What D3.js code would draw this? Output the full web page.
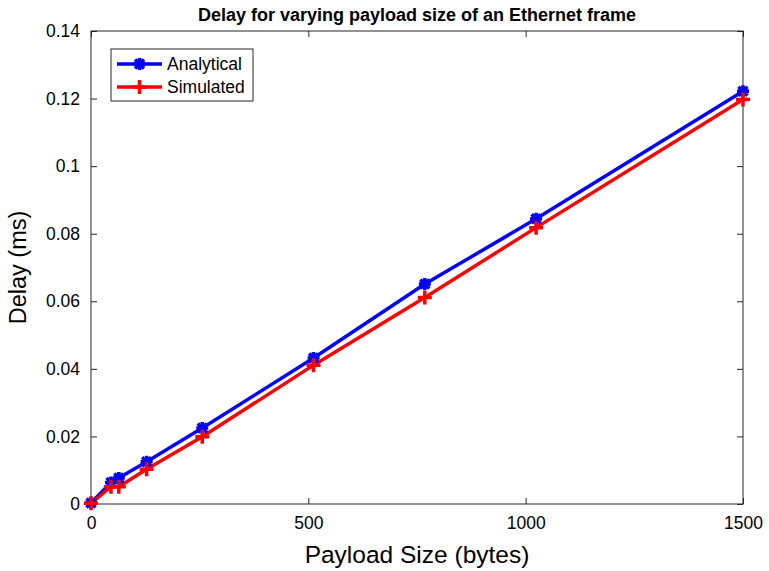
<!DOCTYPE html>
<html>
<head>
<meta charset="utf-8">
<script src="https://cdn.jsdelivr.net/npm/d3@7"></script>
<style>
  body { margin: 0; background: #fff; }
  svg { display: block; font-family: "Liberation Sans", Arial, sans-serif; }
</style>
</head>
<body>
<div id="chart"></div>
<script>
const payload = [0, 46, 64, 128, 256, 512, 768, 1024, 1500];
const analytical = [0.0003, 0.0064, 0.0077, 0.0125, 0.0225, 0.0432, 0.0651, 0.0844, 0.1222];
const simulated = [0.0002, 0.0051, 0.0051, 0.0103, 0.0199, 0.0411, 0.0611, 0.0818, 0.1197];
const xTicks = [0, 500, 1000, 1500];
const yTicks = [0, 0.02, 0.04, 0.06, 0.08, 0.1, 0.12, 0.14];

const width = 769, height = 571;
const margin = { top: 31, right: 26, bottom: 67, left: 91 };

const svg = d3.select("#chart").append("svg")
  .attr("width", width)
  .attr("height", height);

const x = d3.scaleLinear([0, 1500], [margin.left, width - margin.right]);
const y = d3.scaleLinear([0, 0.14], [height - margin.bottom, margin.top]);

// axes (MATLAB style: ticks inward, box)
const tick = 6;
const axisColor = "#262626";

svg.append("rect")
  .attr("x", x(0)).attr("y", y(0.14))
  .attr("width", x(1500) - x(0)).attr("height", y(0) - y(0.14))
  .attr("fill", "none").attr("stroke", axisColor).attr("stroke-width", 1);

svg.append("g")
  .attr("transform", `translate(0,${y(0)})`)
  .call(d3.axisBottom(x).tickValues(xTicks).tickSize(-tick).tickPadding(13).tickFormat(d3.format("d")));
svg.append("g")
  .attr("transform", `translate(0,${y(0.14)})`)
  .call(d3.axisTop(x).tickValues(xTicks).tickSize(-tick).tickFormat(""));
svg.append("g")
  .attr("transform", `translate(${x(0)},0)`)
  .call(d3.axisLeft(y).tickValues(yTicks).tickSize(-tick).tickPadding(11).tickFormat(d => d === 0 ? "0" : String(+d.toFixed(2))));
svg.append("g")
  .attr("transform", `translate(${x(1500)},0)`)
  .call(d3.axisRight(y).tickValues(yTicks).tickSize(-tick).tickFormat(""));

svg.selectAll(".domain").remove();
svg.selectAll(".tick line").attr("stroke", axisColor);
svg.selectAll(".tick text").attr("fill", "#000").style("font-size", "17.5px")
  .style("font-family", "'Liberation Sans', Arial, sans-serif");

// lines
const pts = vals => payload.map((p, i) => [p, vals[i]]);
const line = d3.line().x(d => x(d[0])).y(d => y(d[1]));

const star = s => `M${-s},0L${s},0M0,${-s}L0,${s}M${-s * 0.75},${-s * 0.75}L${s * 0.75},${s * 0.75}M${-s * 0.75},${s * 0.75}L${s * 0.75},${-s * 0.75}`;
const plus = s => `M${-s},0L${s},0M0,${-s}L0,${s}`;

const series = [
  { name: "Analytical", vals: analytical, color: "#0000ff", marker: star(6) },
  { name: "Simulated", vals: simulated, color: "#ff0000", marker: plus(7) }
];

series.forEach(s => {
  svg.append("path")
    .attr("d", line(pts(s.vals)))
    .attr("fill", "none")
    .attr("stroke", s.color)
    .attr("stroke-width", 3.5)
    .attr("stroke-linejoin", "round");
});
series.forEach(s => {
  svg.append("g").selectAll("path")
    .data(pts(s.vals))
    .join("path")
    .attr("transform", d => `translate(${x(d[0])},${y(d[1])})`)
    .attr("d", s.marker)
    .attr("stroke", s.color)
    .attr("stroke-width", 3.5)
    .attr("fill", "none");
});

// legend
const lg = svg.append("g");
lg.append("rect")
  .attr("x", 111).attr("y", 49).attr("width", 142).attr("height", 52)
  .attr("fill", "#fff").attr("stroke", axisColor).attr("stroke-width", 1);
series.forEach((s, i) => {
  const ly = 64 + i * 23;
  lg.append("line")
    .attr("x1", 117).attr("x2", 162).attr("y1", ly).attr("y2", ly)
    .attr("stroke", s.color).attr("stroke-width", 3.5);
  lg.append("path")
    .attr("transform", `translate(139.5,${ly})`)
    .attr("d", s.marker)
    .attr("stroke", s.color).attr("stroke-width", 3.5).attr("fill", "none");
  lg.append("text")
    .attr("x", 167).attr("y", ly).attr("dy", "0.36em")
    .style("font-size", "17.5px")
    .text(s.name);
});

// titles
svg.append("text")
  .attr("x", (x(0) + x(1500)) / 2).attr("y", 21)
  .attr("text-anchor", "middle")
  .style("font-size", "18px").style("font-weight", "bold")
  .text("Delay for varying payload size of an Ethernet frame");

svg.append("text")
  .attr("x", (x(0) + x(1500)) / 2).attr("y", 563)
  .attr("text-anchor", "middle")
  .style("font-size", "24.5px")
  .text("Payload Size (bytes)");

svg.append("text")
  .attr("transform", `translate(26,${(y(0) + y(0.14)) / 2}) rotate(-90)`)
  .attr("text-anchor", "middle")
  .style("font-size", "23.5px")
  .text("Delay (ms)");
</script>
</body>
</html>
